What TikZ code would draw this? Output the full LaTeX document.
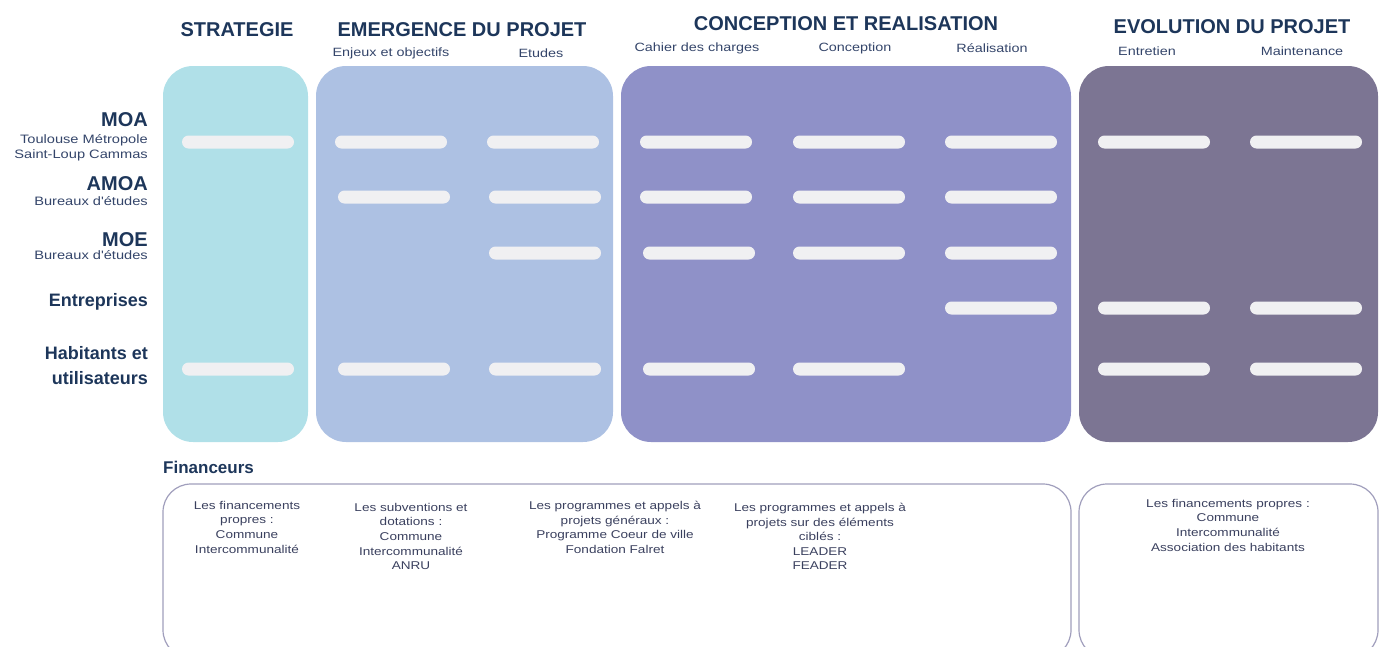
\documentclass[tikz,border=0pt]{standalone}
\usepackage{fontspec}
\setmainfont{Liberation Sans}
\newfontfamily\widefont{Liberation Sans}[FakeStretch=1.2]
\definecolor{navy}{HTML}{1D365A}
\definecolor{navysoft}{HTML}{34456A}
\definecolor{graytext}{HTML}{3A405E}
\definecolor{cstrat}{HTML}{B0E0E8}
\definecolor{cemerg}{HTML}{ADC1E3}
\definecolor{cconc}{HTML}{8F91C8}
\definecolor{cevol}{HTML}{7C7593}
\definecolor{cbar}{HTML}{F0F0F2}
\definecolor{cframe}{HTML}{A09EBC}
\tikzset{
  panel/.style={rounded corners=30pt},
  bar/.style={fill=cbar, rounded corners=6.5pt},
  phase/.style={font=\fontsize{20}{22}\selectfont\bfseries, text=navy, inner sep=0pt},
  subphase/.style={font=\widefont\fontsize{12}{14}\selectfont, text=navysoft, inner sep=0pt},
  role/.style={font=\fontsize{18}{20}\selectfont\bfseries, text=navy, anchor=east, inner sep=0pt},
  rolebig/.style={font=\fontsize{20}{22}\selectfont\bfseries, text=navy, anchor=east, inner sep=0pt},
  rolesub/.style={font=\widefont\fontsize{12.2}{13}\selectfont, text=navysoft, anchor=east, inner sep=0pt},
  fund/.style={font=\widefont\fontsize{11.3}{14.6}\selectfont, text=graytext, align=center, anchor=north, inner sep=0pt},
  frame/.style={draw=cframe, line width=1.2pt, rounded corners=28pt},
}
\begin{document}
\begin{tikzpicture}[x=1pt,y=-1pt]
\useasboundingbox (0,0) rectangle (1383,646);
% panels
\fill[panel, cstrat] (163,66) rectangle (308,442);
\fill[panel, cemerg] (316,66) rectangle (613,442);
\fill[panel, cconc] (621,66) rectangle (1071,442);
\fill[panel, cevol] (1079,66) rectangle (1378,442);
% phase titles
\node[phase] (hstrat) at (237,30) {STRATEGIE};
\node[phase] (hemerg) at (462,30) {EMERGENCE DU PROJET};
\node[phase] (hconc) at (846,24) {CONCEPTION ET REALISATION};
\node[phase] (hevol) at (1232,27) {EVOLUTION DU PROJET};
% sub phases
\node[subphase] (senj) at (391,53) {Enjeux et objectifs};
\node[subphase] (setu) at (541,53) {Etudes};
\node[subphase] (scah) at (697,48) {Cahier des charges};
\node[subphase] (scon) at (855,48) {Conception};
\node[subphase] (srea) at (992,48) {Réalisation};
\node[subphase] (sent) at (1147,51) {Entretien};
\node[subphase] (smai) at (1302,51) {Maintenance};
% roles
\node[rolebig] (rmoa) at (148,120) {MOA};
\node[rolesub] (rmoa1) at (148,140) {Toulouse Métropole};
\node[rolesub] (rmoa2) at (148,155) {Saint-Loup Cammas};
\node[rolebig] (ramoa) at (148,184) {AMOA};
\node[rolesub] (ramoa1) at (148,201) {Bureaux d'études};
\node[rolebig] (rmoe) at (148,240) {MOE};
\node[rolesub] (rmoe1) at (148,255) {Bureaux d'études};
\node[role] (rent) at (148,302) {Entreprises};
\node[role] (rhab1) at (148,353) {Habitants et};
\node[role] (rhab2) at (148,378) {utilisateurs};
% bars
\foreach \cx/\cy in {238/142,391/142,543/142,696/142,849/142,1001/142,1154/142,1306/142,
  394/197,545/197,696/197,849/197,1001/197,
  545/253,699/253,849/253,1001/253,
  1001/308,1154/308,1306/308,
  238/369,394/369,545/369,699/369,849/369,1154/369,1306/369}
  \fill[bar] (\cx-56,\cy-6.5) rectangle (\cx+56,\cy+6.5);
% financeurs
\node[font=\fontsize{17}{19}\selectfont\bfseries, text=navy, anchor=west, inner sep=0pt] (fin) at (163,467) {Financeurs};
\begin{scope}
\clip (0,0) rectangle (1383,646);
\draw[frame] (163,484) rectangle (1071,658);
\draw[frame] (1079,484) rectangle (1378,658);
\end{scope}
\node[fund] (f1) at (247,501) {Les financements\\propres :\\Commune\\Intercommunalité};
\node[fund] (f2) at (411,503) {Les subventions et\\dotations :\\Commune\\Intercommunalité\\ANRU};
\node[fund] (f3) at (615,501) {Les programmes et appels à\\projets généraux :\\Programme Coeur de ville\\Fondation Falret};
\node[fund] (f4) at (820,503) {Les programmes et appels à\\projets sur des éléments\\ciblés :\\LEADER\\FEADER};
\node[fund] (f5) at (1228,499) {Les financements propres :\\Commune\\Intercommunalité\\Association des habitants};
\end{tikzpicture}
\end{document}
